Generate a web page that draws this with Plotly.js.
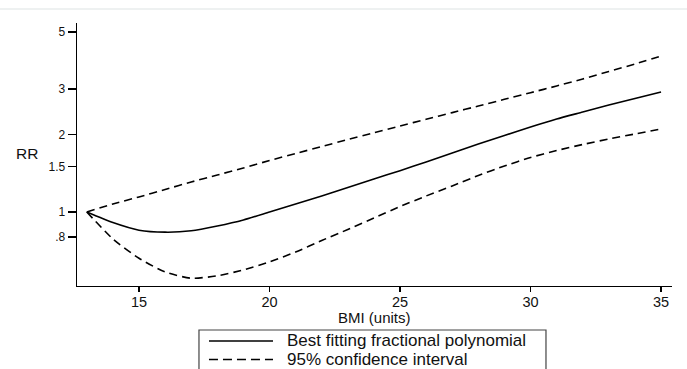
<!DOCTYPE html>
<html>
<head>
<meta charset="utf-8">
<script src="https://cdn.plot.ly/plotly-3.0.1.min.js"></script>
<style>
  html, body { margin: 0; padding: 0; background: #fff; }
  #chart { width: 687px; height: 369px; }
</style>
</head>
<body>
<div id="chart"></div>
<script>
// BMI values (x)
var bmi = [13, 14, 15, 16, 17, 18, 19, 20, 21, 22, 23, 24, 25, 26, 27, 28, 29, 30, 31, 32, 33, 34, 35];
// Best fitting fractional polynomial (RR)
var rrFit = [1.000, 0.910, 0.850, 0.835, 0.845, 0.882, 0.931, 1.000, 1.074, 1.154, 1.245, 1.343, 1.447, 1.564, 1.695, 1.837, 1.982, 2.138, 2.297, 2.445, 2.603, 2.759, 2.924];
// 95% confidence interval, upper
var rrUpper = [1.000, 1.074, 1.144, 1.223, 1.308, 1.392, 1.482, 1.585, 1.687, 1.796, 1.911, 2.030, 2.158, 2.291, 2.432, 2.580, 2.739, 2.906, 3.086, 3.285, 3.513, 3.756, 4.036];
// 95% confidence interval, lower
var rrLower = [1.000, 0.786, 0.661, 0.585, 0.553, 0.565, 0.596, 0.640, 0.699, 0.775, 0.855, 0.948, 1.050, 1.154, 1.262, 1.386, 1.509, 1.628, 1.733, 1.829, 1.921, 2.009, 2.101];

var xTicks = [15, 20, 25, 30, 35];
var yTickVals = [0.8, 1, 1.5, 2, 3, 5];
var yTickText = ['.8', '1', '1.5', '2', '3', '5'];

var fitName = 'Best fitting fractional polynomial';
var ciName = '95% confidence interval';

var ciDash = '8px,5px';

var traces = [
  {
    x: bmi, y: rrFit, type: 'scatter', mode: 'lines', name: fitName,
    line: { color: '#000', width: 1.6, shape: 'spline', smoothing: 0.6 }
  },
  {
    x: bmi, y: rrUpper, type: 'scatter', mode: 'lines', name: ciName,
    line: { color: '#000', width: 1.6, dash: ciDash, shape: 'spline', smoothing: 0.6 }
  },
  {
    x: bmi, y: rrLower, type: 'scatter', mode: 'lines', name: ciName,
    line: { color: '#000', width: 1.6, dash: ciDash, shape: 'spline', smoothing: 0.6 }
  }
];

var fontFam = '"Liberation Sans", Arial, Helvetica, sans-serif';

// Legend drawn as a boxed key below the plot (paper coordinates)
var legX0 = 0.205, legX1 = 0.7882, legTop = -0.1673, legBottom = -0.34;
var sampleX0 = 0.2218, sampleX1 = 0.3294, textX = 0.3496;
var row1 = -0.2091, row2 = -0.2795;

var layout = {
  width: 687, height: 369,
  margin: { l: 77, r: 15, t: 23, b: 83, autoexpand: false },
  paper_bgcolor: '#fff', plot_bgcolor: '#fff',
  font: { family: fontFam, color: '#111' },
  showlegend: false,
  xaxis: {
    range: [12.625, 35.42],
    tickvals: xTicks,
    ticks: 'outside', ticklen: 5, tickwidth: 1.3, tickcolor: '#000',
    ticklabelstandoff: -3,
    showline: true, linecolor: '#000', linewidth: 1.4,
    showgrid: false, zeroline: false,
    tickfont: { size: 14.5, color: '#111' }
  },
  yaxis: {
    type: 'log',
    range: [-0.2874, 0.734],
    tickvals: yTickVals, ticktext: yTickText,
    ticks: 'outside', ticklen: 8, tickwidth: 1.3, tickcolor: '#000',
    showline: true, linecolor: '#000', linewidth: 1.4,
    showgrid: false, zeroline: false,
    tickfont: { size: 12, color: '#111' }
  },
  annotations: [
    { text: 'RR', xref: 'paper', yref: 'paper', x: -0.084, y: 0.502, xanchor: 'center', yanchor: 'middle',
      showarrow: false, font: { size: 15.5, color: '#111' } },
    { text: 'BMI (units)', xref: 'paper', yref: 'paper', x: 0.5, y: -0.1179, xanchor: 'center', yanchor: 'middle',
      showarrow: false, font: { size: 15, color: '#111' } },
    { text: fitName, xref: 'paper', yref: 'paper', x: textX, y: row1, xanchor: 'left', yanchor: 'middle',
      showarrow: false, font: { size: 17, color: '#111' } },
    { text: ciName, xref: 'paper', yref: 'paper', x: textX, y: row2, xanchor: 'left', yanchor: 'middle',
      showarrow: false, font: { size: 17, color: '#111' } }
  ],
  shapes: [
    { type: 'line', xref: 'paper', yref: 'paper', x0: -0.13, x1: 1.03, y0: 1.053, y1: 1.053,
      line: { color: '#e8ecec', width: 1.5 } },
    { type: 'rect', xref: 'paper', yref: 'paper', x0: legX0, x1: legX1, y0: legTop, y1: legBottom,
      line: { color: '#444', width: 1.2 }, fillcolor: 'rgba(0,0,0,0)' },
    { type: 'line', xref: 'paper', yref: 'paper', x0: sampleX0, x1: sampleX1, y0: row1, y1: row1,
      line: { color: '#000', width: 1.6 } },
    { type: 'line', xref: 'paper', yref: 'paper', x0: sampleX0, x1: sampleX1, y0: row2, y1: row2,
      line: { color: '#000', width: 1.6, dash: '9px,5px' } }
  ]
};

Plotly.newPlot('chart', traces, layout, { displayModeBar: false, staticPlot: true });
</script>
</body>
</html>
